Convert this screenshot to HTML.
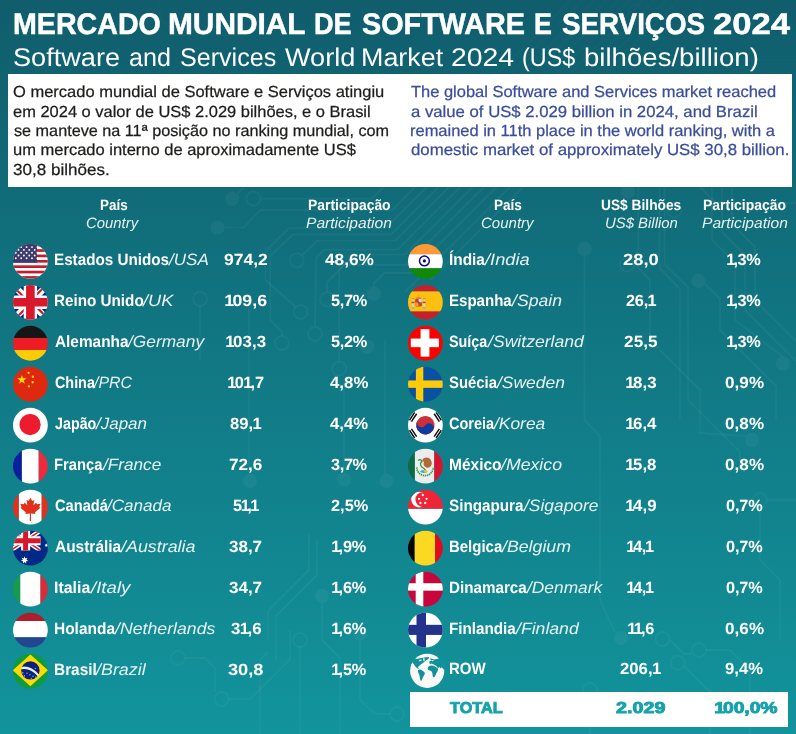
<!DOCTYPE html>
<html lang="pt-BR">
<head>
<meta charset="utf-8">
<title>Mercado Mundial de Software e Serviços 2024</title>
<style>
html,body{margin:0;padding:0}
html{background:#12949c}
body{width:796px;height:734px;overflow:hidden;font-family:"Liberation Sans", Arial, Helvetica, sans-serif}
.page{position:relative;width:796px;height:734px;overflow:hidden;background:linear-gradient(180deg,#105d6c 0%,#12949c 100%)}
h1,h2,p{margin:0;font-weight:normal}
.t{position:absolute;display:block;white-space:nowrap;line-height:1;transform-origin:0 0;margin:0;text-rendering:geometricPrecision}
.flag{position:absolute;display:block}
.bg{position:absolute;left:0;top:0}
.box{position:absolute;left:8px;top:74px;width:784px;height:113px;background:#fff}
.totbox{position:absolute;left:410px;top:692px;width:378px;height:35px;background:#fff}
.o{margin:0 -.1em 0 -.04em}
.f0{font-size:29.8px;font-weight:700;font-style:normal;color:#ffffff;-webkit-text-stroke:0.5px #ffffff}
.f1{font-size:25.6px;font-weight:400;font-style:normal;color:#ffffff}
.f2{font-size:16.0px;font-weight:400;font-style:normal;color:#1d1d1b;-webkit-text-stroke:0.25px #1d1d1b}
.f3{font-size:16.0px;font-weight:400;font-style:normal;color:#3a4d9c;-webkit-text-stroke:0.25px #3a4d9c}
.f4{font-size:15px;font-weight:700;font-style:normal;color:#ffffff}
.f5{font-size:15px;font-weight:400;font-style:italic;color:rgba(255,255,255,.9)}
.f6{font-size:16.4px;font-weight:700;font-style:normal;color:#ffffff}
.f7{font-size:16.4px;font-weight:400;font-style:italic;color:rgba(255,255,255,.9)}
.f8{font-size:16.3px;font-weight:700;font-style:normal;color:#ffffff}
.f9{font-size:15.8px;font-weight:700;font-style:normal;color:#17a2ab;-webkit-text-stroke:0.9px #17a2ab}
</style>
</head>
<body>
<main class="page">
<svg class="bg" width="796" height="734" viewBox="0 0 796 734" aria-hidden="true"><g fill="none" stroke="#fff" stroke-opacity=".042" stroke-width="1.8" stroke-linejoin="round"><polyline points="237.5,193.5 245,186"/><polyline points="260.7,198.7 372,198.7 384.7,186"/><polyline points="224.5,227.6 243.3,227.6 260.4,210.2 392,210.2 416.2,186"/><polyline points="295.6,306.9 265.3,280 265.3,251.3 289,228.1 385.5,228.1 427.6,186"/><polyline points="281.9,336.1 281.9,331.7 270.2,320 270.2,256.2 293.1,234.4 391.2,234.4 439.6,186"/><polyline points="301.8,255.3 317.6,240.7 395.3,240.7 450,186"/><polyline points="315,326.8 316,257.9 324.1,249.7 397.7,249.7 461.4,186"/><polyline points="339.2,361.7 339.2,270 354.6,254.6 405,254.6 473.6,186"/><polyline points="327.1,292.3 327.1,282 344,265 406,265 485,186"/><polyline points="374,287 374,283 384,273 410.5,273 497.5,186"/><polyline points="405,292 511,186"/><polyline points="430,280 524,186"/><polyline points="385,340 385,474"/><polyline points="249,300 249,474"/><polyline points="344,380 344,472"/><polyline points="200,306 200,360"/><polyline points="659.6,187 659.6,268 680,289 680,420"/><polyline points="664.5,187 664.5,264 688,287.5 688,400 740,452 740,470"/><polyline points="638.4,187 638.4,250 631.9,259.4"/><polyline points="584.5,256 584.5,420 600,436 600,600 614.6,632"/><polyline points="705,284 720,299 720,330 776,386 776,420"/><polyline points="712,187 712,240 735,263 735,320 783,357"/><polyline points="722,187 722,232 745,255 745,310 796,361"/><polyline points="732,187 732,224 755,247 755,300 796,341"/><polyline points="700,187 716,203 796,203"/><polyline points="632,262 650,280 650,340 700,390 700,433 745,436"/><polyline points="670,640 684,654 692,654"/><polyline points="706,650 730,650 750,670 750,734"/><polyline points="684,666 710,692 710,734"/><polyline points="590,697 590,734"/><polyline points="767,500 796,500"/><polyline points="760,507 760,560 780,580 780,640"/><polyline points="268,640 268,611 309,570 309,534"/><polyline points="276,660 276,616 317,575 317,540"/><polyline points="260,734 260,660 268,652"/><polyline points="228.5,699 250,699 290,659 290,630"/><polyline points="185,658 205,658 215,668 215,692"/><polyline points="322,603 322,640 340,658 340,734"/><polyline points="360,641 360,700 375,714 390,714"/><polyline points="300,647 300,734"/><circle cx="253.4" cy="198.7" r="7"/><circle cx="296.8" cy="260.3" r="7"/><circle cx="300.6" cy="312" r="7"/><circle cx="327.1" cy="299.3" r="7"/><circle cx="281.9" cy="343.1" r="7"/><circle cx="315" cy="333.8" r="7"/><circle cx="339.2" cy="368.7" r="7"/><circle cx="200" cy="299" r="7"/><circle cx="627" cy="264.4" r="7"/><circle cx="677.7" cy="662.9" r="7"/><circle cx="699" cy="650" r="7"/><circle cx="662.6" cy="639" r="7"/><circle cx="590" cy="690" r="7"/><circle cx="760" cy="500" r="7"/><circle cx="674.3" cy="210.5" r="7"/><circle cx="178" cy="658" r="7"/><circle cx="221.5" cy="699" r="7"/><circle cx="397" cy="714" r="7"/><circle cx="300" cy="640" r="7"/></g><g fill="none" stroke="#fff" stroke-opacity=".02" stroke-width="1.4"><polyline points="497,74 571,0"/><polyline points="509,74 583,0"/><polyline points="521,74 595,0"/><polyline points="533,74 607,0"/><polyline points="545,74 619,0"/><polyline points="557,74 631,0"/><polyline points="569,74 643,0"/><polyline points="581,74 655,0"/><polyline points="593,74 667,0"/><polyline points="605,74 679,0"/><polyline points="700,0 700,40 720,60 796,60"/><polyline points="160,0 160,18 178,36 240,36"/><circle cx="635" cy="11" r="6.5"/></g><g fill="#fff" fill-opacity=".045"><circle cx="232.3" cy="198.7" r="7.2"/><circle cx="217.5" cy="227.6" r="7.2"/><circle cx="374" cy="293.8" r="7.2"/><circle cx="367" cy="346.7" r="7.2"/><circle cx="344.3" cy="479.4" r="7.2"/><circle cx="250" cy="481" r="7.2"/><circle cx="386.5" cy="481" r="7.2"/><circle cx="698.5" cy="281" r="7.2"/><circle cx="783" cy="363.7" r="7.2"/><circle cx="751.8" cy="440" r="7.2"/><circle cx="621" cy="638" r="7.2"/><circle cx="584.5" cy="248.9" r="7.2"/><circle cx="627.8" cy="191.7" r="7.2"/><circle cx="360" cy="634" r="7.2"/><circle cx="322" cy="596" r="7.2"/></g></svg>
<div class="box"></div>
<header>
<h1><span class="t f0" style="left:13px;top:10px;transform:scaleX(0.9601)">MERCADO</span> <span class="t f0" style="left:168px;top:10px;transform:scaleX(1.0011)">MUNDIAL</span> <span class="t f0" style="left:314px;top:10px;transform:scaleX(0.9113)">DE</span> <span class="t f0" style="left:362px;top:10px;transform:scaleX(0.9655)">SOFTWARE</span> <span class="t f0" style="left:534px;top:10px;transform:scaleX(0.9002)">E</span> <span class="t f0" style="left:562px;top:10px;transform:scaleX(0.9323)">SERVIÇOS</span> <span class="t f0" style="left:713px;top:10px;transform:scaleX(1.1628)">2024</span></h1>
<h2><span class="t f1" style="left:13px;top:46px;transform:scaleX(1.0594)">Software</span> <span class="t f1" style="left:129px;top:46px;transform:scaleX(0.9814)">and</span> <span class="t f1" style="left:180px;top:46px;transform:scaleX(0.9799)">Services</span> <span class="t f1" style="left:285px;top:46px;transform:scaleX(1.0594)">World</span> <span class="t f1" style="left:361px;top:46px;transform:scaleX(1.0504)">Market</span> <span class="t f1" style="left:451px;top:46px;transform:scaleX(1.1084)">2024</span> <span class="t f1" style="left:522px;top:46px;transform:scaleX(0.9121)">(US$</span> <span class="t f1" style="left:584px;top:46px;transform:scaleX(1.0782)">bilhões/billion)</span></h2>
</header>
<section class="intro">
<p lang="pt"><span class="t f2" style="left:13px;top:85px;transform:scaleX(1.0307)">O mercado mundial de Software e Serviços atingiu</span><span class="t f2" style="left:13px;top:105px;transform:scaleX(1.0285)">em 2024 o valor de US$ 2.029 bilhões, e o Brasil</span><span class="t f2" style="left:14px;top:124px;transform:scaleX(1.0129)">se manteve na 11ª posição no ranking mundial, com</span><span class="t f2" style="left:13px;top:143px;transform:scaleX(1.0308)">um mercado interno de aproximadamente US$</span><span class="t f2" style="left:13px;top:163px;transform:scaleX(1.0655)">30,8 bilhões.</span></p>
<p lang="en"><span class="t f3" style="left:411px;top:85px;transform:scaleX(1.0289)">The global Software and Services market reached</span><span class="t f3" style="left:411px;top:105px;transform:scaleX(1.0449)">a value of US$ 2.029 billion in 2024, and Brazil</span><span class="t f3" style="left:410px;top:124px;transform:scaleX(1.0290)">remained in 11th place in the world ranking, with a</span><span class="t f3" style="left:411px;top:143px;transform:scaleX(1.0505)">domestic market of approximately US$ 30,8 billion.</span></p>
</section>
<section class="tables">
<div class="thead"><span class="t f4" style="left:100px;top:198px;transform:scaleX(0.8944)">País</span><span class="t f5" style="left:86px;top:216px;transform:scaleX(0.9919)">Country</span><span class="t f4" style="left:308px;top:198px;transform:scaleX(0.9259)">Participação</span><span class="t f5" style="left:306px;top:216px;transform:scaleX(1.0400)">Participation</span><span class="t f4" style="left:494px;top:198px;transform:scaleX(0.9035)">País</span><span class="t f5" style="left:481px;top:216px;transform:scaleX(1.0008)">Country</span><span class="t f4" style="left:601px;top:198px;transform:scaleX(0.9165)">US$ Bilhões</span><span class="t f5" style="left:605px;top:216px;transform:scaleX(0.9927)">US$ Billion</span><span class="t f4" style="left:703px;top:198px;transform:scaleX(0.9304)">Participação</span><span class="t f5" style="left:702px;top:216px;transform:scaleX(1.0400)">Participation</span></div>
<div class="tbl tbl-L">
<div class="row">
<svg class="flag" style="left:11px;top:242px" width="40" height="40" viewBox="0 0 40 40" aria-hidden="true"><clipPath id="c0"><circle r="17.4"/></clipPath><g transform="translate(19.40,19.30)"><g clip-path="url(#c0)"><rect x="-18" y="-18" width="36" height="36" fill="#fff"/><rect x="-18" y="-17.50" width="36" height="2.69" fill="#bf1e2e"/><rect x="-18" y="-12.12" width="36" height="2.69" fill="#bf1e2e"/><rect x="-18" y="-6.73" width="36" height="2.69" fill="#bf1e2e"/><rect x="-18" y="-1.35" width="36" height="2.69" fill="#bf1e2e"/><rect x="-18" y="4.04" width="36" height="2.69" fill="#bf1e2e"/><rect x="-18" y="9.42" width="36" height="2.69" fill="#bf1e2e"/><rect x="-18" y="14.81" width="36" height="2.69" fill="#bf1e2e"/><rect x="-18" y="-18" width="24.6" height="19.4" fill="#3c3b6e"/><circle cx="-14.6" cy="-14.2" r="0.95" fill="#fff"/><circle cx="-9.2" cy="-14.2" r="0.95" fill="#fff"/><circle cx="-3.8" cy="-14.2" r="0.95" fill="#fff"/><circle cx="1.6" cy="-14.2" r="0.95" fill="#fff"/><circle cx="7.0" cy="-14.2" r="0.95" fill="#fff"/><circle cx="-11.9" cy="-11.4" r="0.95" fill="#fff"/><circle cx="-6.5" cy="-11.4" r="0.95" fill="#fff"/><circle cx="-1.1" cy="-11.4" r="0.95" fill="#fff"/><circle cx="4.3" cy="-11.4" r="0.95" fill="#fff"/><circle cx="-14.6" cy="-8.6" r="0.95" fill="#fff"/><circle cx="-9.2" cy="-8.6" r="0.95" fill="#fff"/><circle cx="-3.8" cy="-8.6" r="0.95" fill="#fff"/><circle cx="1.6" cy="-8.6" r="0.95" fill="#fff"/><circle cx="7.0" cy="-8.6" r="0.95" fill="#fff"/><circle cx="-11.9" cy="-5.8" r="0.95" fill="#fff"/><circle cx="-6.5" cy="-5.8" r="0.95" fill="#fff"/><circle cx="-1.1" cy="-5.8" r="0.95" fill="#fff"/><circle cx="4.3" cy="-5.8" r="0.95" fill="#fff"/><circle cx="-14.6" cy="-3.0" r="0.95" fill="#fff"/><circle cx="-9.2" cy="-3.0" r="0.95" fill="#fff"/><circle cx="-3.8" cy="-3.0" r="0.95" fill="#fff"/><circle cx="1.6" cy="-3.0" r="0.95" fill="#fff"/><circle cx="7.0" cy="-3.0" r="0.95" fill="#fff"/></g></g></svg>
<span class="t f6" style="left:54px;top:252px;transform:scaleX(0.9289)">Estados Unidos</span><span class="t f7" style="left:169px;top:252px;transform:scaleX(1.0401)">/USA</span><span class="t f8" style="left:224px;top:252px;transform:scaleX(1.0766);letter-spacing:-0.03px">974,2</span><span class="t f8" style="left:325px;top:252px;transform:scaleX(1.0598);letter-spacing:-0.01px">48,6%</span>
</div>
<div class="row">
<svg class="flag" style="left:11px;top:283px" width="40" height="40" viewBox="0 0 40 40" aria-hidden="true"><clipPath id="c1"><circle r="17.4"/></clipPath><g transform="translate(19.40,19.28)"><g clip-path="url(#c1)"><rect x="-18" y="-18" width="36" height="36" fill="#00247d"/><path d="M-18,-18L18,18M18,-18L-18,18" stroke="#fff" stroke-width="6.6"/><path d="M-18,-16.6L0,1.4M18,16.6L0,-1.4M-16.6,18L1.4,0M16.6,-18L-1.4,0" stroke="#d8182c" stroke-width="2.2"/><path d="M0,-18V18M-18,0H18" stroke="#fff" stroke-width="13.4"/><path d="M0,-18V18M-18,0H18" stroke="#d8182c" stroke-width="8.6"/></g></g></svg>
<span class="t f6" style="left:54px;top:293px;transform:scaleX(0.9293)">Reino Unido</span><span class="t f7" style="left:143px;top:293px;transform:scaleX(1.1119)">/UK</span><span class="t f8" style="left:225px;top:293px;transform:scaleX(1.0905);letter-spacing:0.02px"><span class="o">1</span>09,6</span><span class="t f8" style="left:331px;top:293px;transform:scaleX(1.0000);letter-spacing:-0.28px">5,7%</span>
</div>
<div class="row">
<svg class="flag" style="left:11px;top:324px" width="40" height="40" viewBox="0 0 40 40" aria-hidden="true"><clipPath id="c2"><circle r="17.4"/></clipPath><g transform="translate(19.40,19.26)"><g clip-path="url(#c2)"><rect x="-18" y="-18" width="36" height="12.70" fill="#161616"/><rect x="-18" y="-5.3" width="36" height="12.00" fill="#ee1c25"/><rect x="-18" y="6.7" width="36" height="11.30" fill="#ffcb05"/></g></g></svg>
<span class="t f6" style="left:55px;top:334px;transform:scaleX(0.9378)">Alemanha</span><span class="t f7" style="left:128px;top:334px;transform:scaleX(1.0568)">/Germany</span><span class="t f8" style="left:226px;top:334px;transform:scaleX(1.0359);letter-spacing:0.07px"><span class="o">1</span>03,3</span><span class="t f8" style="left:331px;top:334px;transform:scaleX(1.0000);letter-spacing:-0.28px">5,2%</span>
</div>
<div class="row">
<svg class="flag" style="left:11px;top:365px" width="40" height="40" viewBox="0 0 40 40" aria-hidden="true"><clipPath id="c3"><circle r="17.4"/></clipPath><g transform="translate(19.40,19.24)"><g clip-path="url(#c3)"><rect x="-18" y="-18" width="36" height="36" fill="#de2910"/><polygon points="-8.50,-9.30 -7.40,-5.91 -3.84,-5.91 -6.72,-3.82 -5.62,-0.44 -8.50,-2.53 -11.38,-0.44 -10.28,-3.82 -13.16,-5.91 -9.60,-5.91" fill="#ffde00"/><circle cx="-1.8" cy="-11.4" r="1.15" fill="#ffde00"/><circle cx="2.5" cy="-7.5" r="1.15" fill="#ffde00"/><circle cx="2.3" cy="-2.0" r="1.15" fill="#ffde00"/><circle cx="-1.5" cy="2.1" r="1.15" fill="#ffde00"/></g></g></svg>
<span class="t f6" style="left:55px;top:375px;transform:scaleX(0.8756)">China</span><span class="t f7" style="left:94px;top:375px;transform:scaleX(0.9694)">/PRC</span><span class="t f8" style="left:228px;top:375px;transform:scaleX(1.0000);letter-spacing:-0.05px"><span class="o">1</span>0<span class="o">1</span>,7</span><span class="t f8" style="left:330px;top:375px;transform:scaleX(1.0280);letter-spacing:0.05px">4,8%</span>
</div>
<div class="row">
<svg class="flag" style="left:11px;top:406px" width="40" height="40" viewBox="0 0 40 40" aria-hidden="true"><clipPath id="c4"><circle r="17.4"/></clipPath><g transform="translate(19.40,19.22)"><g clip-path="url(#c4)"><rect x="-18" y="-18" width="36" height="36" fill="#fff"/><circle cx="-0.3" cy="-0.6" r="10.6" fill="#ee1b2e"/></g></g></svg>
<span class="t f6" style="left:55px;top:416px;transform:scaleX(0.8723)">Japão</span><span class="t f7" style="left:96px;top:416px;transform:scaleX(1.0350)">/Japan</span><span class="t f8" style="left:230px;top:416px;transform:scaleX(1.0192)">89,<span class="o">1</span></span><span class="t f8" style="left:330px;top:416px;transform:scaleX(1.0225);letter-spacing:0.01px">4,4%</span>
</div>
<div class="row">
<svg class="flag" style="left:11px;top:447px" width="40" height="40" viewBox="0 0 40 40" aria-hidden="true"><clipPath id="c5"><circle r="17.4"/></clipPath><g transform="translate(19.40,19.20)"><g clip-path="url(#c5)"><rect x="-18" y="-18" width="9.50" height="36" fill="#0a1f9c"/><rect x="-8.5" y="-18" width="16.80" height="36" fill="#fff"/><rect x="8.3" y="-18" width="9.70" height="36" fill="#ee2a3c"/></g></g></svg>
<span class="t f6" style="left:54px;top:457px;transform:scaleX(0.9006)">França</span><span class="t f7" style="left:103px;top:457px;transform:scaleX(1.0469)">/France</span><span class="t f8" style="left:229px;top:457px;transform:scaleX(1.0530);letter-spacing:-0.03px">72,6</span><span class="t f8" style="left:331px;top:457px;transform:scaleX(1.0000);letter-spacing:-0.34px">3,7%</span>
</div>
<div class="row">
<svg class="flag" style="left:11px;top:488px" width="40" height="40" viewBox="0 0 40 40" aria-hidden="true"><clipPath id="c6"><circle r="17.4"/></clipPath><g transform="translate(19.40,19.18)"><g clip-path="url(#c6)"><rect x="-11.7" y="-18" width="23" height="36" fill="#fff"/><rect x="-18" y="-18" width="6.3" height="36" fill="#e0301e"/><rect x="11.3" y="-18" width="7" height="36" fill="#e0301e"/><path d="M0,-9.2 L1.7,-6 L3.6,-7 L2.9,-2.2 L5.5,-4.6 L6.1,-3.1 L9.4,-3.6 L8.3,-0.5 L9.3,0.3 L4.2,4.6 L4.7,6.2 L0.5,5.7 L0.6,12.6 L-0.6,12.6 L-0.5,5.7 L-4.7,6.2 L-4.2,4.6 L-9.3,0.3 L-8.3,-0.5 L-9.4,-3.6 L-6.1,-3.1 L-5.5,-4.6 L-2.9,-2.2 L-3.6,-7 L-1.7,-6 Z" fill="#e0301e" transform="translate(0,0.3) scale(1.07)"/></g></g></svg>
<span class="t f6" style="left:55px;top:498px;transform:scaleX(0.8944)">Canadá</span><span class="t f7" style="left:107px;top:498px;transform:scaleX(1.0416)">/Canada</span><span class="t f8" style="left:233px;top:498px;transform:scaleX(1.0000);letter-spacing:-0.79px">5<span class="o">1</span>,<span class="o">1</span></span><span class="t f8" style="left:331px;top:498px;transform:scaleX(1.0007);letter-spacing:0.02px">2,5%</span>
</div>
<div class="row">
<svg class="flag" style="left:11px;top:529px" width="40" height="40" viewBox="0 0 40 40" aria-hidden="true"><clipPath id="c7"><circle r="17.4"/></clipPath><g transform="translate(19.40,19.16)"><g clip-path="url(#c7)"><rect x="-18" y="-18" width="36" height="36" fill="#012a87"/><g><clipPath id="auc7"><rect x="-18" y="-18" width="28.1" height="20.3"/></clipPath><g clip-path="url(#auc7)"><path d="M-19.7,-17.5L10.1,2.3M10.1,-17.5L-19.7,2.3" stroke="#fff" stroke-width="4.4"/><path d="M-19.7,-17.5L10.1,2.3M10.1,-17.5L-19.7,2.3" stroke="#d8182c" stroke-width="1.5"/><path d="M-4.8,-18V3M-18,-7.4H11" stroke="#fff" stroke-width="9.0"/><path d="M-4.8,-18V3M-18,-7.4H11" stroke="#d8182c" stroke-width="5.0"/></g></g><polygon points="-5.80,8.20 -4.98,10.29 -2.83,9.63 -3.95,11.58 -2.10,12.85 -4.31,13.18 -4.15,15.42 -5.80,13.90 -7.45,15.42 -7.29,13.18 -9.50,12.85 -7.65,11.58 -8.77,9.63 -6.62,10.29" fill="#fff"/><polygon points="16.00,-4.80 16.41,-3.76 17.49,-4.08 16.93,-3.11 17.85,-2.48 16.74,-2.31 16.82,-1.19 16.00,-1.95 15.18,-1.19 15.26,-2.31 14.15,-2.48 15.07,-3.11 14.51,-4.08 15.59,-3.76" fill="#fff"/></g></g></svg>
<span class="t f6" style="left:55px;top:539px;transform:scaleX(0.9436)">Austrália</span><span class="t f7" style="left:121px;top:539px;transform:scaleX(1.0904)">/Australia</span><span class="t f8" style="left:229px;top:539px;transform:scaleX(1.0468);letter-spacing:-0.03px">38,7</span><span class="t f8" style="left:332px;top:539px;transform:scaleX(1.0000);letter-spacing:-0.18px"><span class="o">1</span>,9%</span>
</div>
<div class="row">
<svg class="flag" style="left:11px;top:570px" width="40" height="40" viewBox="0 0 40 40" aria-hidden="true"><clipPath id="c8"><circle r="17.4"/></clipPath><g transform="translate(19.40,19.14)"><g clip-path="url(#c8)"><rect x="-18" y="-18" width="7.90" height="36" fill="#169b48"/><rect x="-10.1" y="-18" width="20.20" height="36" fill="#fff"/><rect x="10.1" y="-18" width="7.90" height="36" fill="#d92b3a"/></g></g></svg>
<span class="t f6" style="left:54px;top:580px;transform:scaleX(0.9700)">Italia</span><span class="t f7" style="left:91px;top:580px;transform:scaleX(1.1386)">/Italy</span><span class="t f8" style="left:229px;top:580px;transform:scaleX(1.0468);letter-spacing:-0.03px">34,7</span><span class="t f8" style="left:332px;top:580px;transform:scaleX(1.0000);letter-spacing:-0.18px"><span class="o">1</span>,6%</span>
</div>
<div class="row">
<svg class="flag" style="left:11px;top:611px" width="40" height="40" viewBox="0 0 40 40" aria-hidden="true"><clipPath id="c9"><circle r="17.4"/></clipPath><g transform="translate(19.40,19.12)"><g clip-path="url(#c9)"><rect x="-18" y="-18" width="36" height="8.90" fill="#ad1d2b"/><rect x="-18" y="-9.1" width="36" height="16.30" fill="#fff"/><rect x="-18" y="7.2" width="36" height="10.80" fill="#22468f"/></g></g></svg>
<span class="t f6" style="left:54px;top:621px;transform:scaleX(0.9435)">Holanda</span><span class="t f7" style="left:115px;top:621px;transform:scaleX(1.0797)">/Netherlands</span><span class="t f8" style="left:231px;top:621px;transform:scaleX(1.0364);letter-spacing:0.04px">3<span class="o">1</span>,6</span><span class="t f8" style="left:332px;top:621px;transform:scaleX(1.0000);letter-spacing:-0.18px"><span class="o">1</span>,6%</span>
</div>
<div class="row">
<svg class="flag" style="left:11px;top:652px" width="40" height="40" viewBox="0 0 40 40" aria-hidden="true"><clipPath id="c10"><circle r="17.4"/></clipPath><g transform="translate(19.40,19.10)"><g clip-path="url(#c10)"><rect x="-18" y="-18" width="36" height="36" fill="#0f9b3e"/><polygon points="-17.6,-0.8 0,-16.6 17.6,-0.8 0,15.2" fill="#ffd900"/><circle cx="0" cy="-0.7" r="9.2" fill="#0b1f7c"/><path d="M-9,-4.2 Q0,-6.2 8.6,3.4 L7.9,5.6 Q0,-3.6 -9.2,-1.8 Z" fill="#e6f2d8"/><circle cx="-7.6" cy="1.8" r="0.8" fill="#6fa3e0"/><circle cx="-6" cy="4.8" r="0.8" fill="#6fa3e0"/><circle cx="-3.4" cy="2.2" r="0.8" fill="#6fa3e0"/><circle cx="-0.5" cy="3.6" r="0.8" fill="#6fa3e0"/><circle cx="2.6" cy="5.2" r="0.8" fill="#6fa3e0"/><circle cx="5.4" cy="6.0" r="0.8" fill="#6fa3e0"/><circle cx="1" cy="7.4" r="0.8" fill="#6fa3e0"/><circle cx="5" cy="-2.6" r="0.8" fill="#6fa3e0"/></g></g></svg>
<span class="t f6" style="left:54px;top:662px;transform:scaleX(0.9399)">Brasil</span><span class="t f7" style="left:96px;top:662px;transform:scaleX(1.0905)">/Brazil</span><span class="t f8" style="left:228px;top:662px;transform:scaleX(1.1222);letter-spacing:-0.05px">30,8</span><span class="t f8" style="left:332px;top:662px;transform:scaleX(1.0000);letter-spacing:-0.18px"><span class="o">1</span>,5%</span>
</div>
</div>
<div class="tbl tbl-R">
<div class="row">
<svg class="flag" style="left:406px;top:242px" width="40" height="40" viewBox="0 0 40 40" aria-hidden="true"><clipPath id="c11"><circle r="17.4"/></clipPath><g transform="translate(19.40,19.30)"><g clip-path="url(#c11)"><rect x="-18" y="-18" width="36" height="10.90" fill="#ff9933"/><rect x="-18" y="-7.1" width="36" height="14.10" fill="#fff"/><rect x="-18" y="7.0" width="36" height="11.00" fill="#128807"/><circle cx="-1.0" cy="-0.4" r="4.9" fill="none" stroke="#0b0b8c" stroke-width="1.5"/><circle cx="-1.0" cy="-0.4" r="1.6" fill="#0b0b8c"/></g></g></svg>
<span class="t f6" style="left:449px;top:252px;transform:scaleX(0.9384)">Índia</span><span class="t f7" style="left:485px;top:252px;transform:scaleX(1.1151)">/India</span><span class="t f8" style="left:623px;top:252px;transform:scaleX(1.1238);letter-spacing:0.03px">28,0</span><span class="t f8" style="left:727px;top:252px;transform:scaleX(1.0000);letter-spacing:-0.40px"><span class="o">1</span>,3%</span>
</div>
<div class="row">
<svg class="flag" style="left:406px;top:283px" width="40" height="40" viewBox="0 0 40 40" aria-hidden="true"><clipPath id="c12"><circle r="17.4"/></clipPath><g transform="translate(19.40,19.28)"><g clip-path="url(#c12)"><rect x="-18" y="-18" width="36" height="7.10" fill="#c8202b"/><rect x="-18" y="-10.9" width="36" height="20.20" fill="#fdc010"/><rect x="-18" y="9.3" width="36" height="8.70" fill="#c8202b"/><g transform="translate(-6.8,0)"><rect x="-3.2" y="-3.4" width="6.4" height="7.6" rx="1.6" fill="#c7482c"/><rect x="-3.2" y="-3.4" width="3.2" height="3.6" fill="#d9352b"/><rect x="0" y="-3.4" width="3.2" height="3.6" fill="#e8d5dd"/><rect x="-3.2" y="0.2" width="3.2" height="3.4" fill="#e3a81c"/><rect x="0" y="0.2" width="3.2" height="3.4" fill="#c7482c"/><circle cx="0" cy="0.2" r="1.0" fill="#3a5aa8"/><path d="M-3,-3.6 Q0,-7.6 3,-3.6 Z" fill="#c7482c"/><rect x="-2.6" y="-5.0" width="5.2" height="1.2" fill="#e3a81c"/><rect x="-0.4" y="-7.6" width="0.8" height="2" fill="#d9a51c"/><rect x="-6.4" y="-3.2" width="1.7" height="8.6" fill="#d8d2c8"/><rect x="4.7" y="-3.2" width="1.7" height="8.6" fill="#d8d2c8"/><rect x="-7" y="-0.6" width="2.9" height="1.5" fill="#c8402c"/><rect x="4.1" y="-0.6" width="2.9" height="1.5" fill="#c8402c"/><rect x="-6.8" y="-4.2" width="2.5" height="1.2" fill="#c9952a"/><rect x="4.3" y="-4.2" width="2.5" height="1.2" fill="#c9952a"/><rect x="-6.9" y="5.0" width="2.7" height="1.2" fill="#8fa0b8"/><rect x="4.2" y="5.0" width="2.7" height="1.2" fill="#8fa0b8"/></g></g></g></svg>
<span class="t f6" style="left:449px;top:293px;transform:scaleX(0.9182)">Espanha</span><span class="t f7" style="left:512px;top:293px;transform:scaleX(1.0754)">/Spain</span><span class="t f8" style="left:626px;top:293px;transform:scaleX(1.0000);letter-spacing:-0.19px">26,<span class="o">1</span></span><span class="t f8" style="left:727px;top:293px;transform:scaleX(1.0000);letter-spacing:-0.40px"><span class="o">1</span>,3%</span>
</div>
<div class="row">
<svg class="flag" style="left:406px;top:324px" width="40" height="40" viewBox="0 0 40 40" aria-hidden="true"><clipPath id="c13"><circle r="17.4"/></clipPath><g transform="translate(19.40,19.26)"><g clip-path="url(#c13)"><rect x="-18" y="-18" width="36" height="36" fill="#fe0000"/><rect x="-4.8" y="-14.1" width="8.8" height="27.5" fill="#fff"/><rect x="-14.6" y="-4.7" width="28.1" height="8.6" fill="#fff"/></g></g></svg>
<span class="t f6" style="left:449px;top:334px;transform:scaleX(0.8743)">Suíça</span><span class="t f7" style="left:488px;top:334px;transform:scaleX(1.0744)">/Switzerland</span><span class="t f8" style="left:624px;top:334px;transform:scaleX(1.0545);letter-spacing:0.08px">25,5</span><span class="t f8" style="left:727px;top:334px;transform:scaleX(1.0000);letter-spacing:-0.40px"><span class="o">1</span>,3%</span>
</div>
<div class="row">
<svg class="flag" style="left:406px;top:365px" width="40" height="40" viewBox="0 0 40 40" aria-hidden="true"><clipPath id="c14"><circle r="17.4"/></clipPath><g transform="translate(19.40,19.24)"><g clip-path="url(#c14)"><rect x="-18" y="-18" width="36" height="36" fill="#0a52a0"/><rect x="-9.5" y="-18" width="7.4" height="36" fill="#fecb09"/><rect x="-18" y="-3.8" width="36" height="7.4" fill="#fecb09"/></g></g></svg>
<span class="t f6" style="left:449px;top:375px;transform:scaleX(0.9084)">Suécia</span><span class="t f7" style="left:497px;top:375px;transform:scaleX(1.0633)">/Sweden</span><span class="t f8" style="left:626px;top:375px;transform:scaleX(1.0367);letter-spacing:0.04px"><span class="o">1</span>8,3</span><span class="t f8" style="left:725px;top:375px;transform:scaleX(1.0476);letter-spacing:0.06px">0,9%</span>
</div>
<div class="row">
<svg class="flag" style="left:406px;top:406px" width="40" height="40" viewBox="0 0 40 40" aria-hidden="true"><clipPath id="c15"><circle r="17.4"/></clipPath><g transform="translate(19.40,19.22)"><g clip-path="url(#c15)"><rect x="-18" y="-18" width="36" height="36" fill="#fff"/><g transform="rotate(33.7)"><circle r="9.2" fill="#cd2e3a"/><path d="M-9.2,0 A9.2,9.2 0 0 0 9.2,0 A4.6,4.6 0 0 0 0,0 A4.6,4.6 0 0 1 -9.2,0 Z" fill="#0f3a9e"/></g><g transform="rotate(33.7) translate(15.0,0)"><rect x="-2.1" y="-4.7" width="1.5" height="9.4" fill="#111"/><rect x="0.3" y="-4.7" width="1.5" height="9.4" fill="#111"/></g><g transform="rotate(146.3) translate(15.0,0)"><rect x="-2.1" y="-4.7" width="1.5" height="9.4" fill="#111"/><rect x="0.3" y="-4.7" width="1.5" height="9.4" fill="#111"/></g><g transform="rotate(213.7) translate(15.0,0)"><rect x="-2.1" y="-4.7" width="1.5" height="9.4" fill="#111"/><rect x="0.3" y="-4.7" width="1.5" height="9.4" fill="#111"/></g><g transform="rotate(326.3) translate(15.0,0)"><rect x="-2.1" y="-4.7" width="1.5" height="9.4" fill="#111"/><rect x="0.3" y="-4.7" width="1.5" height="9.4" fill="#111"/></g></g></g></svg>
<span class="t f6" style="left:449px;top:416px;transform:scaleX(0.8854)">Coreia</span><span class="t f7" style="left:494px;top:416px;transform:scaleX(1.0604)">/Korea</span><span class="t f8" style="left:626px;top:416px;transform:scaleX(1.0321);letter-spacing:0.01px"><span class="o">1</span>6,4</span><span class="t f8" style="left:725px;top:416px;transform:scaleX(1.0476);letter-spacing:0.06px">0,8%</span>
</div>
<div class="row">
<svg class="flag" style="left:406px;top:447px" width="40" height="40" viewBox="0 0 40 40" aria-hidden="true"><clipPath id="c16"><circle r="17.4"/></clipPath><g transform="translate(19.40,19.20)"><g clip-path="url(#c16)"><rect x="-18" y="-18" width="7.50" height="36" fill="#0b6b46"/><rect x="-10.5" y="-18" width="19.40" height="36" fill="#ececec"/><rect x="8.9" y="-18" width="9.10" height="36" fill="#d8152e"/><path d="M-8.6,1.2 A8.2,8.2 0 0 0 7.8,1.2" fill="none" stroke="#2f9a48" stroke-width="1.7" stroke-dasharray="1.4 0.7"/><path d="M-2.2,-7.6 Q2.6,-10.2 5.4,-6.4 Q7.2,-3.4 5.8,-0.4 Q4.4,2 1.2,1.6 Q-1.6,0.6 -2.0,-2.2 Q-0.6,-4.2 -3.2,-5.6 Z" fill="#b5673a"/><path d="M-7.4,-5.6 Q-4.6,-7.8 -3.4,-4.6 Q-6.2,-2.6 -3.8,0.6 Q-1.4,2.2 0.6,4.4" fill="none" stroke="#3a9a3a" stroke-width="1.3"/><ellipse cx="-1.6" cy="5.4" rx="3.6" ry="1.4" fill="#39a9e0"/><circle cx="0.2" cy="5.0" r="1.4" fill="#f6c51c"/></g></g></svg>
<span class="t f6" style="left:449px;top:457px;transform:scaleX(0.9461)">México</span><span class="t f7" style="left:501px;top:457px;transform:scaleX(1.0803)">/Mexico</span><span class="t f8" style="left:626px;top:457px;transform:scaleX(1.0313);letter-spacing:0.02px"><span class="o">1</span>5,8</span><span class="t f8" style="left:725px;top:457px;transform:scaleX(1.0476);letter-spacing:0.06px">0,8%</span>
</div>
<div class="row">
<svg class="flag" style="left:406px;top:488px" width="40" height="40" viewBox="0 0 40 40" aria-hidden="true"><clipPath id="c17"><circle r="17.4"/></clipPath><g transform="translate(19.40,19.18)"><g clip-path="url(#c17)"><rect x="-18" y="1.5" width="36" height="17" fill="#fff"/><rect x="-18" y="-18" width="36" height="19.5" fill="#ee2536"/><circle cx="-6.4" cy="-7.6" r="7.8" fill="#fff"/><circle cx="-2.6" cy="-7.6" r="7.4" fill="#ee2536"/><circle cx="-2.6" cy="-12.2" r="1.15" fill="#fff"/><circle cx="-6.4" cy="-8.4" r="1.15" fill="#fff"/><circle cx="1.2" cy="-8.4" r="1.15" fill="#fff"/><circle cx="-5.0" cy="-4.2" r="1.15" fill="#fff"/><circle cx="-0.2" cy="-4.2" r="1.15" fill="#fff"/></g></g></svg>
<span class="t f6" style="left:449px;top:498px;transform:scaleX(0.9292)">Singapura</span><span class="t f7" style="left:524px;top:498px;transform:scaleX(1.0616)">/Sigapore</span><span class="t f8" style="left:626px;top:498px;transform:scaleX(1.0350);letter-spacing:0.04px"><span class="o">1</span>4,9</span><span class="t f8" style="left:726px;top:498px;transform:scaleX(1.0000);letter-spacing:-0.11px">0,7%</span>
</div>
<div class="row">
<svg class="flag" style="left:406px;top:529px" width="40" height="40" viewBox="0 0 40 40" aria-hidden="true"><clipPath id="c18"><circle r="17.4"/></clipPath><g transform="translate(19.40,19.16)"><g clip-path="url(#c18)"><rect x="-18" y="-18" width="7.30" height="36" fill="#050505"/><rect x="-10.7" y="-18" width="20.40" height="36" fill="#fbd821"/><rect x="9.7" y="-18" width="8.30" height="36" fill="#e20a1c"/></g></g></svg>
<span class="t f6" style="left:449px;top:539px;transform:scaleX(0.9126)">Belgica</span><span class="t f7" style="left:502px;top:539px;transform:scaleX(1.0817)">/Belgium</span><span class="t f8" style="left:627px;top:539px;transform:scaleX(1.0000);letter-spacing:-0.60px"><span class="o">1</span>4,<span class="o">1</span></span><span class="t f8" style="left:726px;top:539px;transform:scaleX(1.0000);letter-spacing:-0.11px">0,7%</span>
</div>
<div class="row">
<svg class="flag" style="left:406px;top:570px" width="40" height="40" viewBox="0 0 40 40" aria-hidden="true"><clipPath id="c19"><circle r="17.4"/></clipPath><g transform="translate(19.40,19.14)"><g clip-path="url(#c19)"><rect x="-18" y="-18" width="36" height="36" fill="#c8063c"/><rect x="-9.7" y="-18" width="7.6" height="36" fill="#fff"/><rect x="-18" y="-5.9" width="36" height="7.4" fill="#fff"/></g></g></svg>
<span class="t f6" style="left:449px;top:580px;transform:scaleX(0.9278)">Dinamarca</span><span class="t f7" style="left:527px;top:580px;transform:scaleX(1.0582)">/Denmark</span><span class="t f8" style="left:627px;top:580px;transform:scaleX(1.0000);letter-spacing:-0.60px"><span class="o">1</span>4,<span class="o">1</span></span><span class="t f8" style="left:726px;top:580px;transform:scaleX(1.0000);letter-spacing:-0.11px">0,7%</span>
</div>
<div class="row">
<svg class="flag" style="left:406px;top:611px" width="40" height="40" viewBox="0 0 40 40" aria-hidden="true"><clipPath id="c20"><circle r="17.4"/></clipPath><g transform="translate(19.40,19.12)"><g clip-path="url(#c20)"><rect x="-18" y="-18" width="36" height="36" fill="#fff"/><rect x="-8.9" y="-18" width="9.5" height="36" fill="#23338c"/><rect x="-18" y="-5.3" width="36" height="10.1" fill="#23338c"/></g></g></svg>
<span class="t f6" style="left:449px;top:621px;transform:scaleX(0.9285)">Finlandia</span><span class="t f7" style="left:516px;top:621px;transform:scaleX(1.0757)">/Finland</span><span class="t f8" style="left:628px;top:621px;transform:scaleX(1.0000);letter-spacing:-0.31px"><span class="o">1</span><span class="o">1</span>,6</span><span class="t f8" style="left:725px;top:621px;transform:scaleX(1.0476);letter-spacing:0.06px">0,6%</span>
</div>
<div class="row">
<svg class="flag" style="left:408px;top:651px" width="40" height="40" viewBox="0 0 40 40" aria-hidden="true"><g transform="translate(19.20,19.80)"><circle r="17.1" fill="#fbf9f5"/><polygon points="-14.51,-8.51 -16.49,-8.69 -14.99,-11.99 -12.59,-13.19 -11.27,-11.81 -9.29,-12.11 -7.79,-12.59 -4.20,-13.01 -1.20,-13.49 2.10,-13.91 1.32,-11.99 -1.20,-10.19 -3.12,-8.87 -4.20,-7.91 -6.47,-6.29 -8.51,-4.50 -9.11,-3.30 -8.27,-1.92 -9.89,-2.52 -11.03,-3.60 -12.23,-4.92 -13.31,-6.59 -14.09,-7.49" fill="#13919a"/><polygon points="-8.27,-10.67 -6.47,-11.39 -5.10,-10.91 -6.47,-9.83 -7.79,-9.59" fill="#fbf9f5"/><polygon points="-4.20,-12.59 -2.88,-12.71 -2.40,-10.49 -3.48,-9.59 -3.90,-11.09" fill="#fbf9f5"/><polygon points="-9.29,-0.60 -7.79,-1.32 -6.12,-1.08 -4.50,-0.12 -3.12,1.08 -2.28,2.28 -2.88,4.20 -4.20,6.29 -5.10,8.39 -5.40,9.71 -6.41,10.07 -7.19,8.09 -7.55,5.70 -7.91,3.90 -8.87,1.92 -9.41,0.48" fill="#13919a"/><polygon points="2.88,-12.59 4.80,-11.99 7.19,-11.39 9.59,-11.81 11.15,-12.23 12.89,-13.19 16.19,-9.59 18.59,-4.80 18.11,-2.28 16.79,-2.64 16.19,-0.90 15.47,-2.52 14.39,-3.60 13.19,-2.40 12.11,-3.72 10.67,-2.52 9.59,-4.20 8.09,-5.52 6.00,-6.59 4.20,-7.19 2.88,-6.47 2.04,-8.27 2.52,-9.59 4.20,-10.31 3.30,-11.39" fill="#13919a"/><polygon points="4.20,-10.91 6.59,-10.67 6.00,-9.59 4.50,-9.71" fill="#fbf9f5"/><polygon points="0.48,-2.52 1.08,-4.08 2.52,-5.10 4.80,-5.28 6.89,-4.68 8.99,-3.60 10.49,-2.28 10.91,-1.20 10.19,0.72 9.11,2.40 8.27,4.80 7.31,6.12 6.35,6.47 5.52,5.40 5.28,3.00 4.68,0.90 3.48,-0.12 1.80,-0.48 0.72,-1.32" fill="#13919a"/></g></svg>
<span class="t f6" style="left:449px;top:661px;transform:scaleX(0.9183)">ROW</span><span class="t f8" style="left:620px;top:661px;transform:scaleX(1.0249);letter-spacing:0.02px">206,<span class="o">1</span></span><span class="t f8" style="left:725px;top:661px;transform:scaleX(1.0213);letter-spacing:0.04px">9,4%</span>
</div>
</div>
<div class="total"><div class="totbox"></div><span class="t f9" style="left:450px;top:701px;transform:scaleX(1.0295)">TOTAL</span><span class="t f9" style="left:616px;top:701px;transform:scaleX(1.2473);letter-spacing:0.01px">2.029</span><span class="t f9" style="left:715px;top:701px;transform:scaleX(1.2229);letter-spacing:-0.05px"><span class="o">1</span>00,0%</span></div>
</section>
</main>
</body>
</html>
